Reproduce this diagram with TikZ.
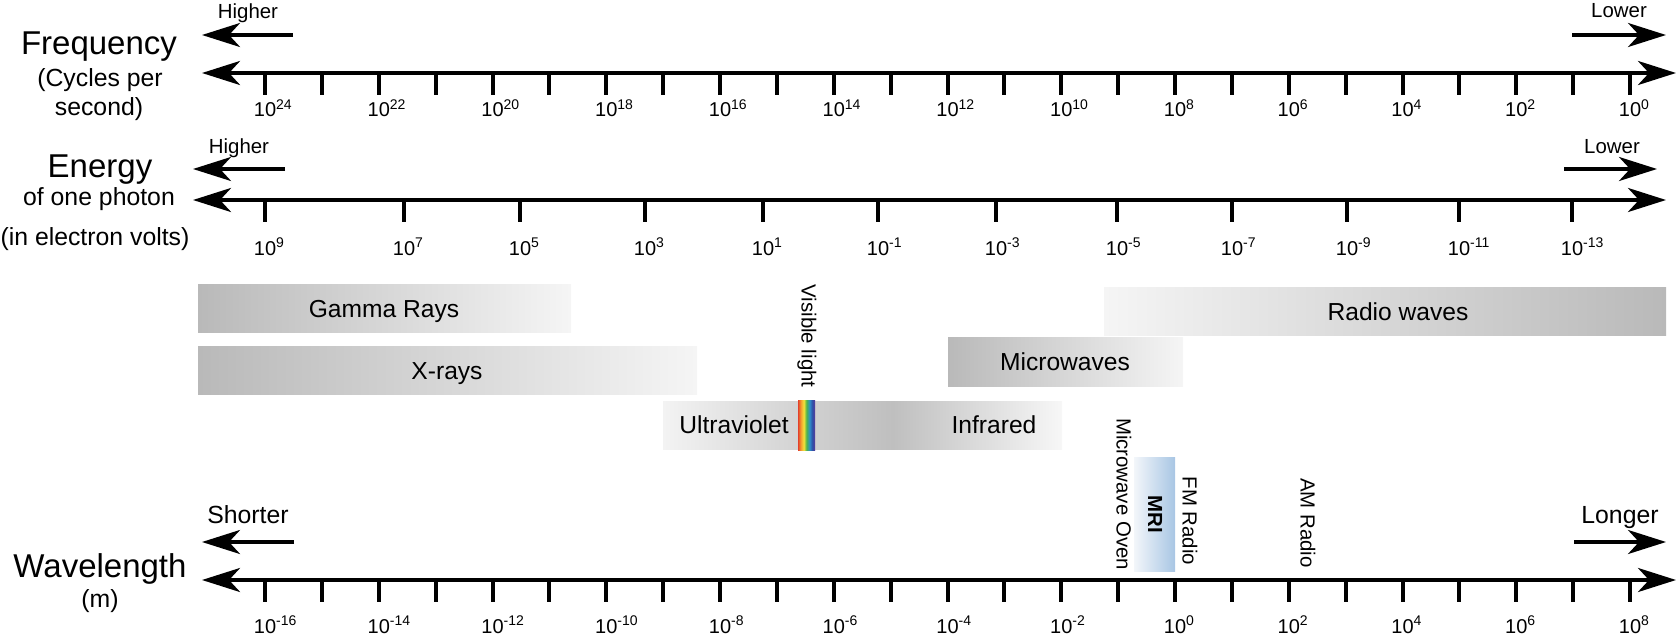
\documentclass[tikz,border=0pt]{standalone}
\usepackage{fontspec}
\setmainfont{Liberation Sans}
\usepackage{tikz}
\usetikzlibrary{arrows.meta}
\usetikzlibrary{math}

\definecolor{banddark}{HTML}{B9B9B9}
\definecolor{bandlight}{HTML}{F5F5F5}
\definecolor{mriblue}{HTML}{A8C6E4}
\definecolor{mriwhite}{HTML}{F3F6FA}
\definecolor{uvl}{HTML}{F3F3F3}
\definecolor{uvm}{HTML}{D3D3D3}
\definecolor{uvd}{HTML}{BFBFBF}
\definecolor{uvr}{HTML}{F7F7F7}
\definecolor{vred}{HTML}{E2402B}
\definecolor{vorange}{HTML}{F29A2E}
\definecolor{vyellow}{HTML}{F2E23A}
\definecolor{vgreen}{HTML}{4DB34A}
\definecolor{vcyan}{HTML}{2F8FC8}
\definecolor{vblue}{HTML}{2F4FA8}
\definecolor{vviolet}{HTML}{5A3A9A}

% the part of a shading that TikZ puts on the path is 25bp..75bp
\pgfdeclarehorizontalshading{uvir}{100bp}{color(0bp)=(uvl); color(25bp)=(uvl);
  color(41.9bp)=(uvm); color(53.8bp)=(uvd); color(75bp)=(uvr); color(100bp)=(uvr)}
\pgfdeclarehorizontalshading{visible}{100bp}{color(0bp)=(vred); color(25bp)=(vred);
  color(33bp)=(vorange); color(42bp)=(vyellow); color(50bp)=(vgreen);
  color(59bp)=(vcyan); color(67bp)=(vblue); color(75bp)=(vviolet); color(100bp)=(vviolet)}

\tikzset{
  tip/.tip={Stealth[length=19pt,width=12pt,inset=5.5pt]},
  axisline/.style={line width=2pt, tip-tip},
  dirarrow/.style={line width=1.8pt, -tip},
  tickmark/.style={line width=2pt},
  ticklab/.style={font=\fontsize{10}{12}\selectfont, anchor=base, inner sep=0pt},
  biglab/.style={font=\fontsize{16.5}{18}\selectfont, anchor=base, inner sep=0pt},
  sublab/.style={font=\fontsize{12.4}{14}\selectfont, anchor=base, inner sep=0pt},
  dirlab/.style={font=\fontsize{10.2}{12}\selectfont, anchor=base, inner sep=0pt},
  bandlab/.style={font=\fontsize{12.3}{14}\selectfont, anchor=base, inner sep=0pt},
  sidelab/.style={font=\fontsize{10.2}{12}\selectfont, rotate=-90, inner sep=0pt},
}

\begin{document}
\begin{tikzpicture}[x=0.5pt,y=-0.5pt]

  \tikzmath{
    \xs    = 265;     % first tick of the frequency and wavelength axes
    \dec   = 56.875;  % one decade on those axes
    \tlen  = 22;      % length of the ticks
    \yf    = 73;      % frequency axis
    \ye    = 200;     % energy axis
    \yw    = 580;     % wavelength axis
  }

  \useasboundingbox (0,0) rectangle (1679,642);

  % Frequency
  \node[biglab] (freq)  at (99,55)  {Frequency};
  \node[sublab] (freq1) at (100,87) {(Cycles per};
  \node[sublab] (freq2) at (99,115) {second)};

  \node[dirlab] (fhigh) at (248,19)  {Higher};
  \node[dirlab] (flow)  at (1619,18) {Lower};
  \coordinate (fh1) at (293,35);   \coordinate (fh2) at (202,35);
  \coordinate (fl1) at (1572,35);  \coordinate (fl2) at (1666,35);
  \draw[dirarrow] (fh1) -- (fh2);
  \draw[dirarrow] (fl1) -- (fl2);

  \coordinate (fa) at (202,\yf);  \coordinate (fb) at (1676,\yf);
  \draw[axisline] (fa) -- (fb);
  \foreach \i in {0,...,24}
    \draw[tickmark] ({\xs+\i*\dec},\yf) -- ++(0,\tlen);
  \foreach \i [evaluate=\i as \e using int(24-\i)] in {0,2,...,24}
    \node[ticklab] (f\i) at ({\xs+\i*\dec},117) {10\rlap{\textsuperscript{\e}}};

  % Energy
  \node[biglab] (ener)  at (100,177) {Energy};
  \node[sublab] (ener1) at (99,205)  {of one photon};
  \node[sublab] (ener2) at (95,245)  {(in electron volts)};

  \node[dirlab] (ehigh) at (239,153)  {Higher};
  \node[dirlab] (elow)  at (1612,153) {Lower};
  \coordinate (eh1) at (285,169);   \coordinate (eh2) at (193,169);
  \coordinate (el1) at (1564,169);  \coordinate (el2) at (1657,169);
  \draw[dirarrow] (eh1) -- (eh2);
  \draw[dirarrow] (el1) -- (el2);

  \coordinate (ea) at (193,\ye);  \coordinate (eb) at (1666,\ye);
  \draw[axisline] (ea) -- (eb);
  \foreach \x/\e [count=\k] in {265/9, 404/7, 520/5, 645/3, 763/1, 878/-1,
                               996/-3, 1117/-5, 1232/-7, 1347/-9, 1459/-11, 1572/-13} {
    \draw[tickmark] (\x,\ye) -- ++(0,\tlen);
    \node[ticklab] (e\k) at (\x,255) {10\rlap{\textsuperscript{\e}}};
  }

  % Bands
  \shade[left color=banddark, right color=bandlight] (198,284) rectangle (571,332);
  \node[bandlab] (gamma) at (384,317) {Gamma Rays};
  \shade[left color=banddark, right color=bandlight] (198,346) rectangle (697,394);
  \node[bandlab] (xray) at (447,379) {X-rays};
  \shade[left color=banddark, right color=bandlight] (948,337) rectangle (1183,386);
  \node[bandlab] (micro) at (1065,370) {Microwaves};
  \shade[left color=bandlight, right color=banddark] (1104,287) rectangle (1666,335);
  \node[bandlab] (radio) at (1398,320) {Radio waves};

  \shade[shading=uvir] (663,401) rectangle (1062,449);
  \shade[shading=visible] (798,400) rectangle (815,450);
  \node[bandlab] (uv) at (734,433) {Ultraviolet};
  \node[bandlab] (ir) at (994,433) {Infrared};
  \node[sidelab] (vis) at (807,336) {Visible light};

  % Uses
  \shade[left color=mriwhite, right color=mriblue] (1134,457) rectangle (1175,571);
  \node[sidelab, font=\fontsize{10.2}{12}\selectfont\bfseries] (mri) at (1155,514) {MRI};
  \node[sidelab] (oven) at (1124,494) {Microwave Oven};
  \node[sidelab] (fm)   at (1190,521) {FM Radio};
  \node[sidelab] (am)   at (1308,523) {AM Radio};

  % Wavelength
  \node[biglab] (wave)  at (100,577) {Wavelength};
  \node[sublab] (wave1) at (100,607) {(m)};

  \node[sublab] (wshort) at (248,523)  {Shorter};
  \node[sublab] (wlong)  at (1620,523) {Longer};
  \coordinate (ws1) at (294,542);   \coordinate (ws2) at (202,542);
  \coordinate (wl1) at (1574,542);  \coordinate (wl2) at (1666,542);
  \draw[dirarrow] (ws1) -- (ws2);
  \draw[dirarrow] (wl1) -- (wl2);

  \coordinate (wa) at (202,\yw);  \coordinate (wb) at (1676,\yw);
  \draw[axisline] (wa) -- (wb);
  \foreach \i in {0,...,24}
    \draw[tickmark] ({\xs+\i*\dec},\yw) -- ++(0,\tlen);
  \foreach \i [evaluate=\i as \e using int(\i-16)] in {0,2,...,24}
    \node[ticklab] (w\i) at ({\xs+\i*\dec},633) {10\rlap{\textsuperscript{\e}}};

\end{tikzpicture}
\end{document}
